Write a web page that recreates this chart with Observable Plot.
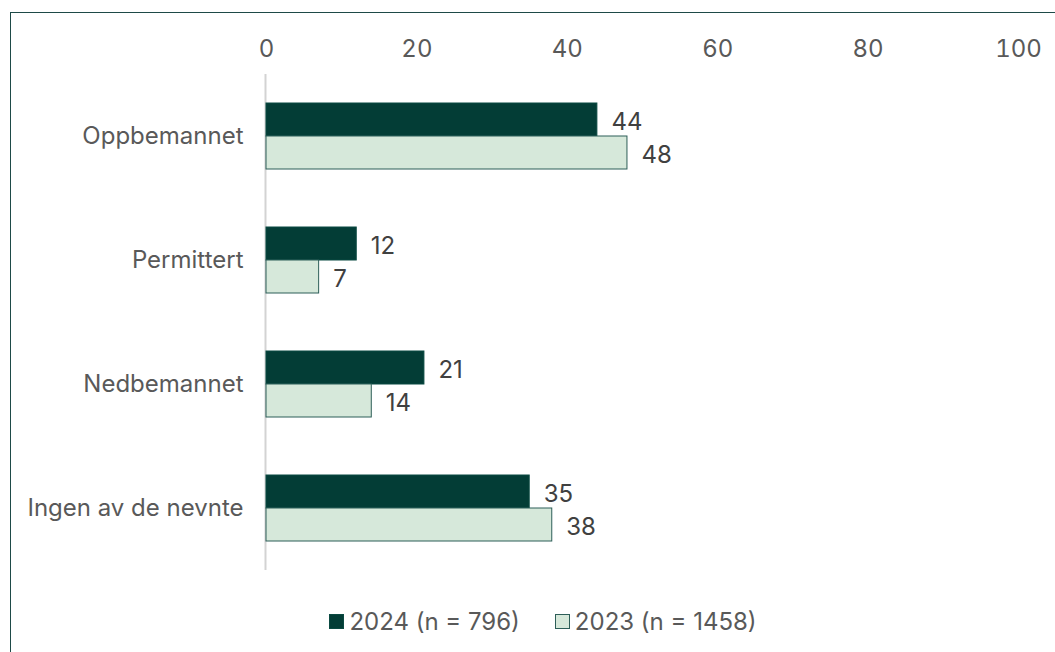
<!DOCTYPE html>
<html><head><meta charset="utf-8">
<script src="https://cdn.jsdelivr.net/npm/d3@7"></script>
<script src="https://cdn.jsdelivr.net/npm/@observablehq/plot@0.6"></script>
<style>
body{margin:0;background:#fff;font-family:Inter,sans-serif;}
#frame{position:absolute;left:10px;top:12px;width:1100px;height:700px;border-left:1.5px solid #1e4a48;border-top:1.5px solid #1e4a48;}
#chart{position:absolute;left:0;top:0;}
#legend{position:absolute;left:0;top:594px;width:1064px;display:flex;justify-content:center;gap:35px;font-size:24px;color:#595959;}
.item{display:flex;align-items:center;gap:5px;}
.sw{width:15px;height:15px;box-sizing:border-box;}
</style></head><body>
<div id="frame"><div id="chart"></div><div id="legend"></div></div>
<script>
const categories = ["Oppbemannet", "Permittert", "Nedbemannet", "Ingen av de nevnte"];
const series = ["2024", "2023"];
const seriesLabels = ["2024 (n = 796)", "2023 (n = 1458)"];
const values2024 = [44, 12, 21, 35];
const values2023 = [48, 7, 14, 38];
const xTicks = [0, 20, 40, 60, 80, 100];
const fills = {"2024": "#033d36", "2023": "#d6e8da"};
const strokes = {"2024": "#0b4a42", "2023": "#2d5e58"};

const data = [];
categories.forEach((c, i) => {
  data.push({cat: c, year: "2024", value: values2024[i]});
  data.push({cat: c, year: "2023", value: values2023[i]});
});

const chart = Plot.plot({
  width: 1044, height: 580,
  marginLeft: 255, marginRight: 37, marginTop: 61, marginBottom: 23,
  style: {fontFamily: "Inter, sans-serif", fontSize: "24px", color: "#595959", background: "transparent"},
  x: {domain: [0, 100], axis: null},
  fy: {domain: categories, padding: 0, axis: null},
  y: {domain: series, paddingInner: 0, paddingOuter: 0.85, axis: null},
  marks: [
    Plot.axisX(xTicks, {anchor: "top", tickSize: 0, tickPadding: 18, fill: "#595959", fontSize: 24, facetAnchor: "top", label: null}),
    Plot.axisFy({anchor: "left", tickSize: 0, tickPadding: 23, fill: "#595959", fontSize: 24, label: null}),
    Plot.ruleX([0], {stroke: "#d3d3d3", strokeWidth: 2, dx: -1}),
    Plot.barX(data, {fy: "cat", y: "year", x: "value", fill: d => fills[d.year], stroke: d => strokes[d.year], strokeWidth: 1, inset: 0}),
    Plot.text(data, {fy: "cat", y: "year", x: "value", text: d => String(d.value), dx: 14, dy: 2, textAnchor: "start", fill: "#404040", fontSize: 24})
  ]
});
document.getElementById("chart").appendChild(chart);

const legend = document.getElementById("legend");
series.forEach((s, i) => {
  const it = document.createElement("div"); it.className = "item";
  const sw = document.createElement("div"); sw.className = "sw";
  sw.style.background = fills[s]; sw.style.border = "1px solid " + strokes[s];
  const t = document.createElement("span"); t.textContent = seriesLabels[i];
  it.appendChild(sw); it.appendChild(t); legend.appendChild(it);
});
</script>
</body></html>
